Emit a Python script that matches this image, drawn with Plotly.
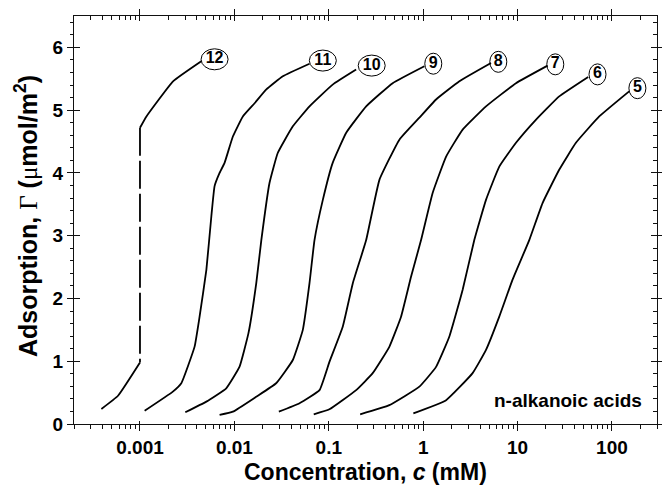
import math
import plotly.graph_objects as go

# ---------------- data ----------------
c5 = [0.787, 1.75, 3.34, 4.63, 6.4, 8.85, 13.3, 18.4, 27.6, 41.5, 73.3, 152]
g5 = [0.17, 0.38, 0.81, 1.18, 1.71, 2.30, 2.93, 3.52, 4.05, 4.48, 4.90, 5.30]

c6 = [0.215, 0.438, 0.912, 1.37, 1.89, 2.62, 3.48, 4.63, 6.4, 9.62, 15.7, 27.6, 56]
g6 = [0.155, 0.30, 0.595, 0.91, 1.39, 2.14, 2.93, 3.57, 4.10, 4.48, 4.85, 5.22, 5.53]

c7 = [0.0693, 0.1016, 0.195, 0.292, 0.438, 0.583, 0.745, 0.95, 1.26, 1.75, 2.62, 4.63, 9.62, 20.8]
g7 = [0.155, 0.234, 0.54, 0.81, 1.23, 1.71, 2.35, 2.93, 3.68, 4.26, 4.69, 5.06, 5.43, 5.71]

c8 = [0.0296, 0.049, 0.0798, 0.1016, 0.1406, 0.1795, 0.249, 0.344, 0.56, 0.912, 1.37, 2.42, 5.23]
g8 = [0.196, 0.33, 0.54, 0.99, 1.55, 2.24, 2.93, 3.89, 4.53, 4.88, 5.17, 5.46, 5.75]

c9 = [0.00697, 0.00964, 0.01706, 0.0277, 0.0416, 0.0531, 0.0625, 0.0706, 0.0865, 0.110, 0.153, 0.249, 0.475, 1.03]
g9 = [0.144, 0.196, 0.435, 0.649, 1.02, 1.5, 2.244, 2.93, 3.57, 4.16, 4.64, 5.06, 5.43, 5.70]

c10 = [0.00302, 0.00505, 0.0082, 0.01135, 0.0141, 0.01706, 0.0193, 0.02355, 0.0288, 0.0416, 0.0625, 0.110, 0.195]
g10 = [0.187, 0.356, 0.569, 0.914, 1.447, 2.244, 2.93, 3.839, 4.317, 4.742, 5.061, 5.407, 5.646]

c11 = [0.00112, 0.00223, 0.00274, 0.00379, 0.00428, 0.00505, 0.0057, 0.00617, 0.00697,
       0.00787, 0.00964, 0.0123, 0.01637, 0.0218, 0.0326, 0.0625]
g11 = [0.21, 0.515, 0.649, 1.233, 1.711, 2.456, 3.306, 3.79, 4.00,
       4.16, 4.58, 4.90, 5.11, 5.33, 5.54, 5.74]

c12_low = [0.00039, 0.000585, 0.001]
g12_low = [0.24, 0.45, 0.98]
c12_jump = [0.001, 0.001]
g12_jump = [4.72, 0.98]
c12_high = [0.001, 0.00117, 0.00224, 0.00446]
g12_high = [4.72, 4.9, 5.46, 5.78]

label_text = ["5", "6", "7", "8", "9", "10", "11", "12"]
label_c = [186, 70.3, 25.1, 6.25, 1.28, 0.285, 0.0865, 0.00617]
label_g = [5.35, 5.57, 5.73, 5.77, 5.74, 5.71, 5.79, 5.81]

x_tickvals = [0.001, 0.01, 0.1, 1, 10, 100]
x_ticktext = ["0.001", "0.01", "0.1", "1", "10", "100"]
y_tickvals = [0, 1, 2, 3, 4, 5, 6]
y_ticktext = ["0", "1", "2", "3", "4", "5", "6"]

# ---------------- layout geometry / styling ----------------
W, H = 662, 492
ML, MR, MT, MB = 74, 5, 16, 68
PW, PH = W - ML - MR, H - MT - MB
FONT = "Liberation Sans, Arial, Helvetica, sans-serif"
AXC = "#111111"
LINE = dict(color="black", width=1.8, shape="spline", smoothing=0.35)
x_range = [math.log10(0.0002), math.log10(300)]
y_range = [0, 6.5]
x_minor = [m * 10 ** e for e in range(-4, 3) for m in range(2, 10)]
y_minor = [round(0.2 * k, 1) for k in range(33) if k % 5 != 0]

fig = go.Figure()

solid_series = [(c5, g5), (c6, g6), (c7, g7), (c8, g8), (c9, g9), (c10, g10), (c11, g11),
                (c12_low, g12_low), (c12_high, g12_high)]
for cx, gy in solid_series:
    fig.add_trace(go.Scatter(x=cx, y=gy, mode="lines", line=LINE,
                             hoverinfo="skip", showlegend=False))

fig.add_trace(go.Scatter(x=c12_jump, y=g12_jump, mode="lines",
                         line=dict(color="black", width=1.8, dash="28px,5px"),
                         hoverinfo="skip", showlegend=False))

fig.add_trace(go.Scatter(x=label_c, y=label_g, mode="text", text=label_text,
                         textposition="middle center",
                         textfont=dict(family=FONT, size=16, color="black", weight="bold"),
                         hoverinfo="skip", showlegend=False))

# ellipses around the labels (sizes in pixels converted to axis units)
px_per_dec = PW / (x_range[1] - x_range[0])
px_per_unit = PH / (y_range[1] - y_range[0])
shapes = []
for t, cx, gy in zip(label_text, label_c, label_g):
    hw = 8.5 if len(t) == 1 else 13.5
    hh = 10.5
    f = 10 ** (hw / px_per_dec)
    shapes.append(dict(type="circle", xref="x", yref="y",
                       x0=cx / f, x1=cx * f,
                       y0=gy - hh / px_per_unit, y1=gy + hh / px_per_unit,
                       line=dict(color="black", width=1), fillcolor="white", layer="below"))

tickfont = dict(family=FONT, size=19, color="black", weight="bold")


def xax(n, side, vals, ticks, ticklen, showline=False):
    return dict(type="log", range=x_range, domain=[0, 1], anchor="y%d" % n,
                showgrid=False, zeroline=False, automargin=False, fixedrange=True,
                side=side, showline=showline, linecolor=AXC, linewidth=1,
                tickmode="array", tickvals=vals, ticks=ticks, ticklen=ticklen,
                tickwidth=1, tickcolor=AXC, showticklabels=False)


def yax(n, side, vals, ticks, ticklen, showline=False):
    return dict(range=y_range, domain=[0, 1], anchor="x%d" % n,
                showgrid=False, zeroline=False, automargin=False, fixedrange=True,
                side=side, showline=showline, linecolor=AXC, linewidth=1,
                tickmode="array", tickvals=vals, ticks=ticks, ticklen=ticklen,
                tickwidth=1, tickcolor=AXC, showticklabels=False)


# extra full-size subplots that carry only tick marks / frame lines
extra = {
    2: (xax(2, "bottom", x_tickvals, "inside", 3), yax(2, "left", y_tickvals, "inside", 6)),
    3: (xax(3, "bottom", x_minor, "outside", 4), yax(3, "left", y_minor, "outside", 3)),
    4: (xax(4, "top", x_tickvals, "outside", 6, True), yax(4, "right", y_tickvals, "outside", 4, True)),
    5: (xax(5, "top", x_tickvals, "inside", 5), yax(5, "right", y_tickvals, "inside", 6)),
    6: (xax(6, "top", x_minor, "inside", 4), yax(6, "right", y_minor, "inside", 4)),
}
axes_layout = {}
for n, (xa, ya) in extra.items():
    axes_layout["xaxis%d" % n] = xa
    axes_layout["yaxis%d" % n] = ya
    fig.add_trace(go.Scatter(x=[1], y=[1], xaxis="x%d" % n, yaxis="y%d" % n, mode="markers",
                             marker=dict(opacity=0), hoverinfo="skip", showlegend=False))

fig.update_layout(
    width=W, height=H,
    margin=dict(l=ML, r=MR, t=MT, b=MB, autoexpand=False),
    paper_bgcolor="white", plot_bgcolor="rgba(0,0,0,0)",
    shapes=shapes,
    xaxis=dict(type="log", range=x_range, domain=[0, 1], anchor="y", side="bottom",
               showgrid=False, zeroline=False, automargin=False, fixedrange=True,
               showline=True, mirror=True, linecolor=AXC, linewidth=1,
               tickmode="array", tickvals=x_tickvals, ticktext=x_ticktext,
               ticks="outside", ticklen=6, tickwidth=1, tickcolor=AXC,
               tickfont=tickfont, ticklabelstandoff=0),
    yaxis=dict(range=y_range, domain=[0, 1], anchor="x", side="left",
               showgrid=False, zeroline=False, automargin=False, fixedrange=True,
               showline=True, mirror=True, linecolor=AXC, linewidth=1,
               tickmode="array", tickvals=y_tickvals, ticktext=y_ticktext,
               ticks="outside", ticklen=6, tickwidth=1, tickcolor=AXC,
               tickfont=tickfont, ticklabelstandoff=0),
    annotations=[
        dict(text="n-alkanoic acids", xref="paper", yref="paper", x=(644 - ML) / PW, y=(MT + PH - 400) / PH,
             xanchor="right", yanchor="middle", showarrow=False,
             font=dict(family=FONT, size=19, color="black", weight="bold")),
        dict(text="Concentration, <i>c</i> (mM)", xref="paper", yref="paper",
             x=(365.5 - ML) / PW, y=(MT + PH - 472) / PH,
             xanchor="center", yanchor="middle", showarrow=False,
             font=dict(family=FONT, size=23, color="black", weight="bold")),
        dict(text="Adsorption, <span style='font-family:Liberation Serif;font-weight:normal'>Γ</span> "
                  "(<span style='font-family:Liberation Serif;font-weight:normal'>μ</span>mol/m<sup>2</sup>)",
             xref="paper", yref="paper", x=(26 - ML) / PW, y=(MT + PH - 216) / PH,
             xanchor="center", yanchor="middle", textangle=-90, showarrow=False,
             font=dict(family=FONT, size=25, color="black", weight="bold")),
    ],
    **axes_layout,
)

fig.write_html("out.html", config={"displayModeBar": False},
               post_script="document.body.style.margin='0';")
